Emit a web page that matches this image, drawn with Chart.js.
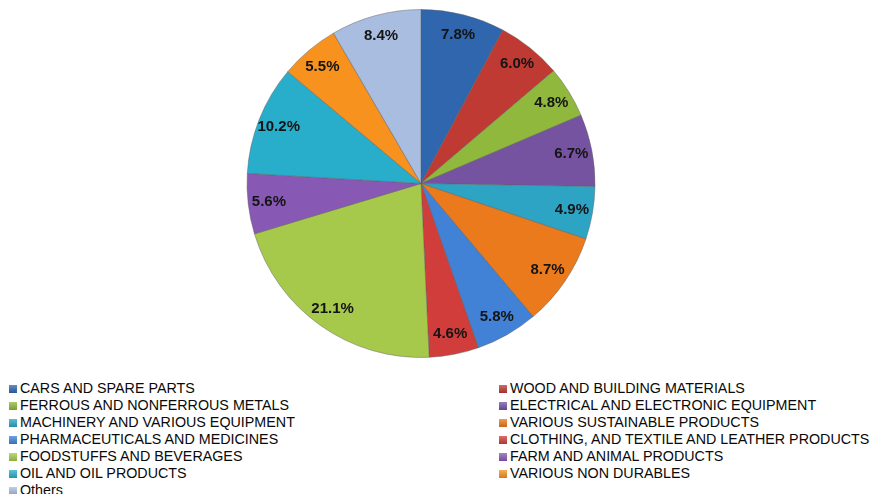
<!DOCTYPE html>
<html>
<head>
<meta charset="utf-8">
<script src="https://cdn.jsdelivr.net/npm/chart.js@4.4.1/dist/chart.umd.min.js"></script>
<style>
  html, body { margin: 0; padding: 0; background: #fff; }
  #wrap { position: relative; width: 872px; height: 494px; overflow: hidden; }
  #chart-box { position: absolute; left: 0; top: 0; width: 872px; height: 370px; }
  #legend { position: absolute; left: 0; top: 380px; width: 872px; font-family: "Liberation Sans", Arial, sans-serif; font-size: 14.3px; color: #0a0a0a; }
  .lg-item { position: absolute; height: 17px; line-height: 17px; white-space: nowrap; }
  .lg-sw { display: inline-block; width: 8px; height: 8px; margin-right: 3px; vertical-align: 0px; }
</style>
</head>
<body>
<div id="wrap">
  <div id="chart-box"><canvas id="pie"></canvas></div>
  <div id="legend"></div>
</div>
<script>
// ── Data ─────────────────────────────────────────────────────────────────
const categories = [
  'CARS AND SPARE PARTS',
  'WOOD AND BUILDING MATERIALS',
  'FERROUS AND NONFERROUS METALS',
  'ELECTRICAL AND ELECTRONIC EQUIPMENT',
  'MACHINERY AND VARIOUS EQUIPMENT',
  'VARIOUS SUSTAINABLE PRODUCTS',
  'PHARMACEUTICALS AND MEDICINES',
  'CLOTHING, AND TEXTILE AND LEATHER PRODUCTS',
  'FOODSTUFFS AND BEVERAGES',
  'FARM AND ANIMAL PRODUCTS',
  'OIL AND OIL PRODUCTS',
  'VARIOUS NON DURABLES',
  'Others',
];
const shares = [7.8, 6.0, 4.8, 6.7, 4.9, 8.7, 5.8, 4.6, 21.1, 5.6, 10.2, 5.5, 8.4];
const sliceColors = [
  '#2f66ae', '#bf3a33', '#8fb83c', '#7553a1', '#2ea4c5', '#ea7a1c',
  '#4181d6', '#d03d3b', '#a6c94c', '#8858b5', '#28aecb', '#f7921f', '#a9bde0',
];

// ── Helpers ──────────────────────────────────────────────────────────────
function shade(hex, f) {
  const n = parseInt(hex.slice(1), 16);
  let r = (n >> 16) & 255, g = (n >> 8) & 255, b = n & 255;
  if (f >= 0) { r += (255 - r) * f; g += (255 - g) * f; b += (255 - b) * f; }
  else { r *= 1 + f; g *= 1 + f; b *= 1 + f; }
  return `rgb(${Math.round(r)},${Math.round(g)},${Math.round(b)})`;
}

function sliceFill(ctx) {
  const chart = ctx.chart;
  const base = sliceColors[ctx.dataIndex];
  const arc = chart.getDatasetMeta(0).data[ctx.dataIndex];
  if (!arc || !arc.outerRadius) return base;
  const g = chart.ctx.createRadialGradient(arc.x, arc.y, 0, arc.x, arc.y, arc.outerRadius);
  g.addColorStop(0, shade(base, 0.12));
  g.addColorStop(0.82, base);
  g.addColorStop(1, shade(base, -0.2));
  return g;
}

// percentage labels placed near the outer edge of each slice
const pctLabels = {
  id: 'pctLabels',
  afterDatasetsDraw(chart) {
    const { ctx } = chart;
    const meta = chart.getDatasetMeta(0);
    ctx.save();
    ctx.font = 'bold 15px "Liberation Sans", Arial, sans-serif';
    ctx.textAlign = 'center';
    ctx.textBaseline = 'middle';
    meta.data.forEach((arc, i) => {
      const mid = (arc.startAngle + arc.endAngle) / 2;
      const r = arc.outerRadius * 0.88;
      const x = arc.x + Math.cos(mid) * r;
      const y = arc.y + Math.sin(mid) * r;
      ctx.fillStyle = '#141414';
      ctx.fillText(shares[i].toFixed(1) + '%', x, y);
    });
    ctx.restore();
  }
};

new Chart(document.getElementById('pie'), {
  type: 'pie',
  data: {
    labels: categories,
    datasets: [{
      data: shares,
      backgroundColor: sliceFill,
      borderColor: 'rgba(90,90,90,0.45)',
      borderWidth: 1,
    }]
  },
  options: {
    responsive: true,
    maintainAspectRatio: false,
    animation: false,
    layout: { padding: { top: 9, bottom: 12, left: 0, right: 30 } },
    plugins: {
      legend: { display: false },
      tooltip: { enabled: false },
    }
  },
  plugins: [pctLabels]
});

// ── Legend (two columns, row-major) ──────────────────────────────────────
const legend = document.getElementById('legend');
categories.forEach((name, i) => {
  const col = i % 2, row = Math.floor(i / 2);
  const el = document.createElement('div');
  el.className = 'lg-item';
  el.style.left = (col ? 499 : 9) + 'px';
  el.style.top = (row * 17) + 'px';
  const c = sliceColors[i];
  el.innerHTML = `<span class="lg-sw" style="background:linear-gradient(${shade(c, 0.25)}, ${shade(c, -0.15)});"></span>${name}`;
  legend.appendChild(el);
});
</script>
</body>
</html>
